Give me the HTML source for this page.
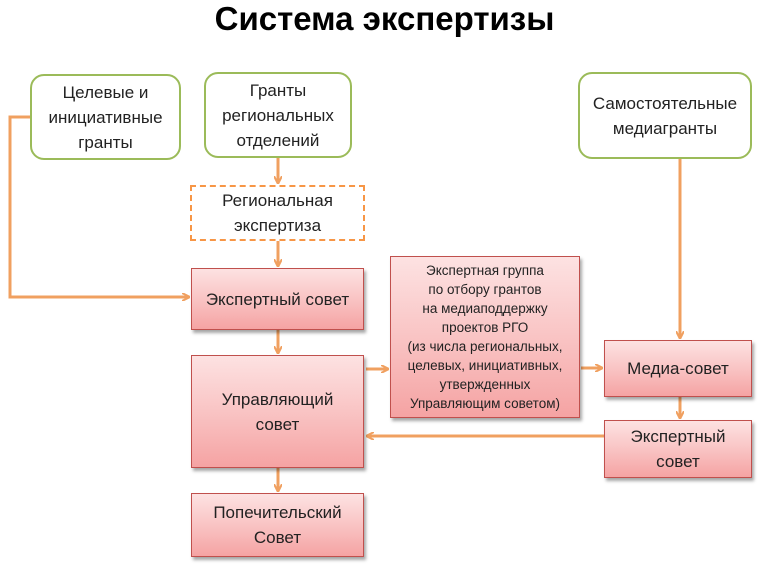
<!DOCTYPE html>
<html><head><meta charset="utf-8"><style>
body{margin:0;width:769px;height:567px;background:#fff;position:relative;font-family:"Liberation Sans","DejaVu Sans",sans-serif;overflow:hidden}
.t{position:absolute;left:0;width:769px;top:0px;text-align:center;font-weight:bold;font-size:33px;color:#000}
.b{position:absolute;box-sizing:border-box;display:flex;align-items:center;justify-content:center;text-align:center;color:#222}
.g{border:2px solid #9bbb59;border-radius:14px;background:#fff;font-size:17px;line-height:25px}
.p{border:1px solid #c0504d;background:linear-gradient(#fde2e2,#f9c4c4 50%,#f5a3a3);box-shadow:2px 3px 3px rgba(0,0,0,.35);font-size:17px;line-height:25px}
.d{border:2px dashed #f79646;background:#fff;font-size:17px;line-height:25px}
svg{position:absolute;left:0;top:0}
</style></head><body>
<div class="t">Система экспертизы</div>
<svg width="769" height="567">
<defs><marker id="a" markerWidth="8" markerHeight="8" refX="7" refY="4" orient="auto" markerUnits="userSpaceOnUse"><path d="M0,0 L8,4 L0,8" fill="none" stroke="#f0a060" stroke-width="2"/></marker></defs>
<g stroke="#f0a060" stroke-width="3" fill="none" marker-end="url(#a)">
<path d="M30,117 H10 V297 H189"/>
<path d="M278,158 V183"/>
<path d="M278,241 V266"/>
<path d="M278,330 V353"/>
<path d="M278,468 V491"/>
<path d="M366,369 H388"/>
<path d="M581,368 H602"/>
<path d="M680,159 V338"/>
<path d="M680,397 V418"/>
<path d="M604,436 H367"/>
</g></svg>
<div class="b g" style="left:30px;top:74px;width:151px;height:86px">Целевые и<br>инициативные<br>гранты</div>
<div class="b g" style="left:204px;top:72px;width:148px;height:86px">Гранты<br>региональных<br>отделений</div>
<div class="b g" style="left:578px;top:72px;width:174px;height:87px">Самостоятельные<br>медиагранты</div>
<div class="b d" style="left:190px;top:185px;width:175px;height:56px">Региональная<br>экспертиза</div>
<div class="b p" style="left:191px;top:268px;width:173px;height:62px">Экспертный совет</div>
<div class="b p" style="left:191px;top:355px;width:173px;height:113px">Управляющий<br>совет</div>
<div class="b p" style="left:191px;top:493px;width:173px;height:64px">Попечительский<br>Совет</div>
<div class="b p" style="left:390px;top:256px;width:190px;height:162px;font-size:13.5px;line-height:19px">Экспертная группа<br>по отбору грантов<br>на медиаподдержку<br>проектов РГО<br>(из числа региональных,<br>целевых, инициативных,<br>утвержденных<br>Управляющим советом)</div>
<div class="b p" style="left:604px;top:340px;width:148px;height:57px">Медиа-совет</div>
<div class="b p" style="left:604px;top:420px;width:148px;height:58px">Экспертный<br>совет</div>
</body></html>
